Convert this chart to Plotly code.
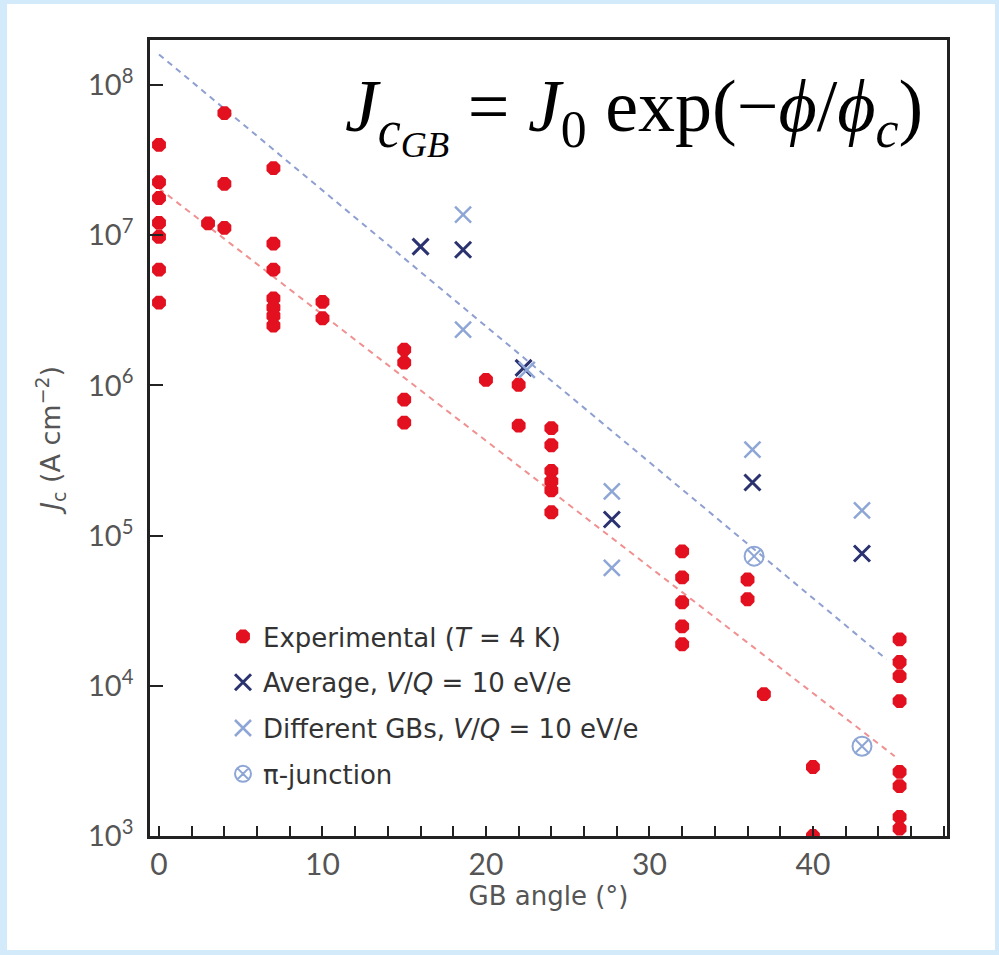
import plotly.graph_objects as go

# ---------------- data ----------------
exp_angle = [0, 0, 0, 0, 0, 0, 0,
             3, 4, 4, 4,
             7, 7, 7, 7, 7, 7, 7,
             10, 10,
             15, 15, 15, 15,
             20, 22, 22,
             24, 24, 24, 24, 24, 24,
             32, 32, 32, 32, 32,
             36, 36, 37, 40, 40,
             45.3, 45.3, 45.3, 45.3, 45.3, 45.3, 45.3, 45.3]
exp_jc = [4.0e7, 2.26e7, 1.77e7, 1.21e7, 9.75e6, 5.9e6, 3.56e6,
          1.2e7, 6.5e7, 2.2e7, 1.12e7,
          2.8e7, 8.8e6, 5.9e6, 3.8e6, 3.3e6, 2.9e6, 2.5e6,
          3.6e6, 2.8e6,
          1.73e6, 1.42e6, 8.05e5, 5.66e5,
          1.09e6, 1.01e6, 5.4e5,
          5.2e5, 4.0e5, 2.7e5, 2.3e5, 2.0e5, 1.43e5,
          7.85e4, 5.27e4, 3.6e4, 2.49e4, 1.89e4,
          5.1e4, 3.77e4, 8.8e3, 2.88e3, 1.0e3,
          2.04e4, 1.44e4, 1.16e4, 7.9e3, 2.67e3, 2.15e3, 1.34e3, 1.12e3]

avg_angle = [16.0, 18.6, 22.3, 27.7, 36.3, 43.0]
avg_jc = [8.4e6, 8.0e6, 1.31e6, 1.28e5, 2.26e5, 7.6e4]

diff_angle = [18.6, 18.6, 22.5, 27.7, 27.7, 36.3, 43.0]
diff_jc = [1.37e7, 2.35e6, 1.27e6, 1.97e5, 6.1e4, 3.74e5, 1.47e5]

pi_angle = [36.4, 43.0]
pi_jc = [7.3e4, 3.96e3]

fit_blue_angle = [0, 44.5]
fit_blue_jc = [1.6e8, 1.5e4]
fit_red_angle = [0, 45.0]
fit_red_jc = [2.05e7, 3.4e3]

x_tickvals = [0, 10, 20, 30, 40]
x_ticktext = ["0", "10", "20", "30", "40"]
y_tickvals = [1e3, 1e4, 1e5, 1e6, 1e7, 1e8]
y_ticktext = ["10<sup>3</sup>", "10<sup>4</sup>", "10<sup>5</sup>",
              "10<sup>6</sup>", "10<sup>7</sup>", "10<sup>8</sup>"]

legend_names = ["Experimental (<i>T</i> = 4 K)",
                "Average, <i>V</i>/<i>Q</i> = 10 eV/e",
                "Different GBs, <i>V</i>/<i>Q</i> = 10 eV/e",
                "π-junction"]

# ---------------- figure ----------------
W, H = 999, 955
L, R, T, B = 150, 947, 40, 836

RED = "#e3101f"
NAVY = "#2b3270"
LBLUE = "#8ea6d6"
SANS = "DejaVu Sans, sans-serif"
TICKF = "Lato, Open Sans, sans-serif"

fig = go.Figure()

fig.add_trace(go.Scatter(x=fit_blue_angle, y=fit_blue_jc, mode="lines",
                         line=dict(color="#8e9fd0", width=2, dash="6px,5px"),
                         showlegend=False, hoverinfo="skip"))
fig.add_trace(go.Scatter(x=fit_red_angle, y=fit_red_jc, mode="lines",
                         line=dict(color="#f09090", width=2, dash="6px,5px"),
                         showlegend=False, hoverinfo="skip"))

fig.add_trace(go.Scatter(x=exp_angle, y=exp_jc, mode="markers", name=legend_names[0],
                         legendgroup="a",
                         marker=dict(symbol="octagon", size=15, color=RED,
                                     line=dict(width=0))))
fig.add_trace(go.Scatter(x=avg_angle, y=avg_jc, mode="markers", name=legend_names[1],
                         legendgroup="b",
                         marker=dict(symbol="x-thin", size=16,
                                     line=dict(width=3, color=NAVY))))
fig.add_trace(go.Scatter(x=diff_angle, y=diff_jc, mode="markers", name=legend_names[2],
                         legendgroup="c",
                         marker=dict(symbol="x-thin", size=16,
                                     line=dict(width=2.5, color=LBLUE))))
fig.add_trace(go.Scatter(x=pi_angle, y=pi_jc, mode="markers", name=legend_names[3],
                         legendgroup="d",
                         marker=dict(symbol="circle-x-open", size=19, color=LBLUE,
                                     line=dict(width=2, color=LBLUE))))

pw, ph = R - L, B - T
def px(x):
    return (x - L) / pw
def py(y):
    return (B - y) / ph

shapes = [
    dict(type="rect", xref="paper", yref="paper", layer="below",
         x0=px(0), x1=px(W), y0=py(H), y1=py(0),
         fillcolor="#d3eafa", line=dict(width=0)),
    dict(type="rect", xref="paper", yref="paper", layer="below",
         x0=px(7), x1=px(W - 4), y0=py(H - 5), y1=py(4),
         fillcolor="white", line=dict(width=0)),
]

fig.update_layout(
    width=W, height=H,
    margin=dict(l=L, r=W - R, t=T, b=H - B, pad=0),
    paper_bgcolor="white",
    plot_bgcolor="rgba(0,0,0,0)",
    shapes=shapes,
    font=dict(family=SANS, color="#555555"),
    showlegend=True,
    legend=dict(x=px(223), y=py(613), xanchor="left", yanchor="top",
                bgcolor="rgba(0,0,0,0)", borderwidth=0,
                font=dict(size=26, color="#333333", family=SANS),
                traceorder="grouped", tracegroupgap=9, itemwidth=30),
    xaxis=dict(range=[-0.55, 48.2], showgrid=False, zeroline=False,
               showline=True, linecolor="#222222", linewidth=2.5, mirror=True,
               ticks="inside", ticklen=10, tickwidth=2, tickcolor="#222222",
               tickvals=x_tickvals, ticktext=x_ticktext,
               minor=dict(ticks="inside", ticklen=10, tickwidth=2,
                          tickcolor="#222222", dtick=2, tick0=0),
               tickfont=dict(size=30, color="#555555", family=TICKF),
               title=dict(text="GB angle (°)", font=dict(size=26, color="#555555"),
                          standoff=4)),
    yaxis=dict(type="log", range=[3, 8.3], showgrid=False, zeroline=False,
               showline=True, linecolor="#222222", linewidth=2.5, mirror=True,
               ticks="inside", ticklen=13, tickwidth=2, tickcolor="#222222",
               tickvals=y_tickvals, ticktext=y_ticktext,
               tickfont=dict(size=29, color="#555555", family=TICKF),
               ticklabelstandoff=8,
               title=dict(text="<i>J</i><sub>c</sub> (A cm<sup>−2</sup>)",
                          font=dict(size=27, color="#555555"), standoff=20)),
)

fig.add_annotation(
    xref="paper", yref="paper", x=px(925), y=py(115), xanchor="right", yanchor="middle",
    showarrow=False,
    text="<i>J</i><sub><i>c</i><sub><i>GB</i></sub></sub> = <i>J</i><sub>0</sub> exp(−<i>ϕ</i>/<i>ϕ</i><sub><i>c</i></sub>)",
    font=dict(family="Liberation Serif, Times New Roman, serif", size=74, color="black"),
)

fig.write_html("out.html")
